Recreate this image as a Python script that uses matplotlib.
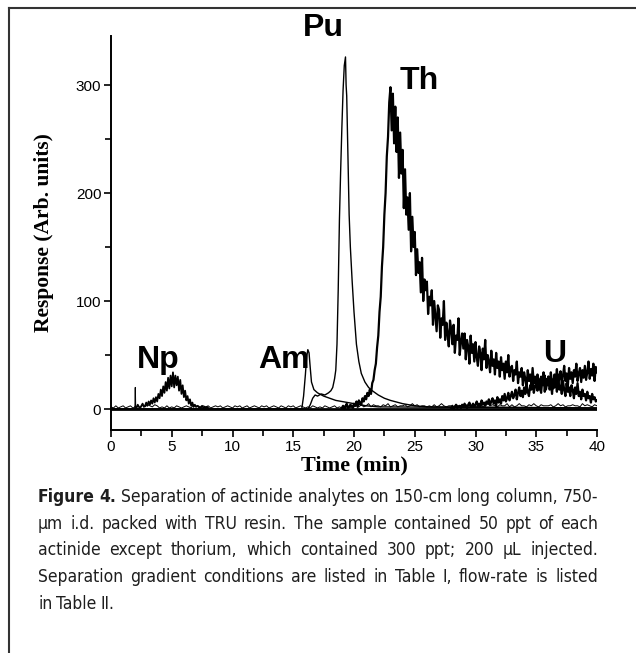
import numpy as np
import matplotlib.pyplot as plt
from matplotlib import font_manager
from matplotlib.font_manager import FontProperties
from matplotlib.ticker import MultipleLocator

# ---- data ----
# common baseline of all runs, 0.2 min steps
base_t = np.arange(0, 40.01, 0.2)
base_v = [2, 1, 3, 1, 2, 3, 1, 2, 3, 1,
          2, 3, 1, 4, 2, 4, 3, 2, 4, 3,
          1, 2, 1, 3, 1, 2, 1, 3, 2, 1,
          2, 3, 2, 1, 4, 2, 3, 1, 3, 2,
          3, 1, 2, 3, 2, 3, 1, 2, 3, 2,
          1, 3, 2, 3, 1, 2, 3, 1, 2, 3,
          2, 1, 3, 2, 3, 1, 2, 3, 2, 1,
          3, 2, 1, 3, 2, 3, 1, 2, 3, 2,
          1, 2, 1, 3, 2, 1, 2, 1, 3, 2,
          1, 2, 3, 1, 2, 1, 3, 2, 1, 2,
          2, 3, 2, 4, 2, 3, 5, 2, 4, 3,
          3, 2, 4, 3, 5, 2, 3, 4, 2, 3,
          3, 4, 2, 3, 5, 3, 4, 2, 3, 3,
          2, 3, 2, 4, 2, 3, 5, 3, 2, 3,
          3, 2, 4, 3, 3, 2, 4, 3, 3, 2,
          3, 2, 4, 2, 3, 5, 3, 4, 3, 2,
          4, 3, 3, 5, 2, 4, 2, 3, 5, 3,
          3, 2, 4, 3, 5, 3, 2, 4, 3, 3,
          3, 4, 2, 3, 5, 3, 4, 2, 3, 3,
          4, 3, 3, 2, 5, 3, 4, 3, 2, 4,
          3]
flat_t = [0, 10, 20, 30, 40]
flat_v = [0.5, 0.5, 0.5, 0.5, 0.5]
spike_t = [1.97, 2.0, 2.03]
spike_v = [1, 20, 1]

# Np run, 0.1 min steps from 2.0
np_t = np.arange(2.0, 8.01, 0.1)
np_v = [2, 1, 4, 2, 1, 3, 5, 2, 3, 6,
        3, 7, 4, 8, 5, 10, 6, 11, 7, 14,
        10, 18, 12, 21, 15, 25, 17, 29, 19, 31,
        21, 34, 20, 31, 22, 30, 17, 27, 14, 22,
        11, 17, 8, 12, 5, 9, 3, 6, 2, 4,
        2, 3, 2, 1, 2, 3, 1, 2, 1, 2,
        1]

# Am run
am_t = [0, 15.7, 15.85, 16.0, 16.1, 16.2, 16.3, 16.4, 16.5, 16.7, 17.0,
        17.5, 18.0, 18.5, 19.0, 20.0, 21.0, 22.0, 40]
am_v = [0, 0, 12, 32, 48, 55, 52, 38, 25, 18, 15,
        12, 10, 8, 7, 5, 3, 2, 1]

# Pu run
pu_t = [0, 16.2, 16.4, 16.6, 16.8, 17.0, 17.3, 17.6, 17.9, 18.1, 18.25,
        18.4, 18.5, 18.6, 18.7, 18.8, 18.9, 19.0, 19.1, 19.2, 19.3, 19.35,
        19.4, 19.5, 19.6, 19.7, 19.85, 20.0, 20.2, 20.4, 20.6, 20.9, 21.2,
        21.5, 22.0, 22.5, 23.0, 24.0, 25.0, 26.0, 40]
pu_v = [0, 0, 4, 10, 13, 12, 14, 13, 15, 17, 20,
        28, 36, 60, 110, 175, 220, 260, 295, 318, 326, 300,
        290, 235, 180, 150, 118, 90, 60, 44, 33, 25, 20,
        17, 13, 10, 8, 5, 3, 2, 1]

# Th run, 0.1 min steps from 19.0
th_t = np.arange(19.0, 40.01, 0.1)
th_v = [1, 3, 0, 2, 5, 1, 2, 4, 3, 1,
        5, 3, 7, 2, 8, 6, 4, 10, 7, 12,
        9, 15, 12, 18, 14, 24, 27, 36, 42, 57,
        68, 90, 104, 132, 150, 180, 200, 234, 252, 284,
        298, 258, 292, 246, 280, 238, 270, 214, 256, 218,
        240, 186, 222, 180, 196, 166, 200, 146, 178, 150,
        164, 124, 148, 126, 136, 108, 140, 100, 120, 110,
        118, 88, 104, 96, 110, 78, 100, 86, 72, 96,
        92, 66, 84, 78, 100, 64, 80, 70, 58, 82,
        74, 60, 78, 52, 68, 64, 84, 50, 62, 70,
        56, 70, 46, 64, 58, 42, 68, 52, 60, 44,
        62, 48, 40, 58, 52, 36, 56, 46, 64, 38,
        50, 44, 34, 54, 40, 46, 32, 52, 38, 44,
        30, 48, 36, 42, 28, 44, 34, 50, 30, 38,
        40, 26, 36, 32, 44, 24, 34, 30, 38, 22,
        34, 28, 20, 36, 26, 32, 22, 38, 24, 30,
        20, 32, 26, 18, 30, 24, 34, 16, 28, 22,
        30, 18, 24, 14, 28, 20, 26, 16, 32, 18,
        22, 14, 26, 18, 12, 24, 16, 20, 12, 22,
        18, 10, 20, 14, 24, 12, 16, 9, 18, 12,
        14, 8, 16, 10, 12, 6, 14, 9, 11, 7,
        8]

# U run, 0.1 min steps from 28.0
u_t = np.arange(28.0, 40.01, 0.1)
u_v = [1, 3, 0, 2, 4, 1, 2, 3, 1, 4,
       2, 5, 3, 1, 4, 6, 2, 3, 5, 2,
       4, 7, 3, 5, 2, 8, 4, 6, 3, 7,
       5, 9, 4, 7, 10, 5, 8, 3, 11, 6,
       9, 5, 12, 8, 14, 7, 10, 15, 8, 12,
       16, 10, 13, 18, 9, 15, 20, 12, 17, 11,
       20, 14, 23, 16, 12, 22, 18, 26, 15, 21,
       24, 17, 28, 20, 15, 27, 22, 31, 18, 25,
       30, 21, 34, 24, 19, 32, 26, 37, 22, 29,
       35, 23, 31, 40, 26, 33, 21, 38, 28, 34,
       24, 36, 30, 42, 26, 33, 38, 25, 36, 29,
       40, 27, 34, 44, 28, 37, 31, 42, 26, 39,
       34]

peak_names = ["Np", "Am", "Pu", "Th", "U"]
peak_pos = [(3.9, 38), (14.2, 38), (17.5, 345), (25.4, 296), (36.5, 44)]

caption = [
    [("Figure", "bold"), ("4.", "bold")] + [(w, "normal") for w in
        "Separation of actinide analytes on 150-cm long column, 750-".split()],
    [(w, "normal") for w in
        "µm i.d. packed with TRU resin. The sample contained 50 ppt of each".split()],
    [(w, "normal") for w in
        "actinide except thorium, which contained 300 ppt; 200 µL injected.".split()],
    [(w, "normal") for w in
        "Separation gradient conditions are listed in Table I, flow-rate is listed".split()],
    [(w, "normal") for w in "in Table II.".split()],
]

# ---- figure ----
W, H = 636, 653
fig = plt.figure(figsize=(W / 100, H / 100), dpi=100)
ax = fig.add_axes([111 / W, 1 - 430 / H, (597 - 111) / W, (430 - 36) / H])

for t, v, lw in [(base_t, base_v, 0.7), (flat_t, flat_v, 2.0), (spike_t, spike_v, 0.8),
                 (np_t, np_v, 1.3), (am_t, am_v, 1.0), (pu_t, pu_v, 1.0),
                 (th_t, th_v, 1.6), (u_t, u_v, 1.6)]:
    ax.plot(t, v, color="black", lw=lw)

ax.set_xlim(0, 40)
ax.set_ylim(-19.4, 345.4)
for side in ["top", "right"]:
    ax.spines[side].set_visible(False)
for side in ["left", "bottom"]:
    ax.spines[side].set_linewidth(1.4)

ax.xaxis.set_major_locator(MultipleLocator(5))
ax.xaxis.set_minor_locator(MultipleLocator(2.5))
ax.yaxis.set_major_locator(MultipleLocator(100))
ax.yaxis.set_minor_locator(MultipleLocator(50))
ax.set_yticks([0, 100, 200, 300])
ax.tick_params(which="both", direction="out", width=1.2)
ax.tick_params(which="major", length=5, labelsize=11, pad=2)
ax.tick_params(which="minor", length=4)
for lab in ax.get_xticklabels() + ax.get_yticklabels():
    lab.set_family("Liberation Sans")

ax.set_xlabel("Time (min)", family="Liberation Serif", weight="bold", size=16, labelpad=1)
ax.set_ylabel("Response (Arb. units)", family="Liberation Serif", weight="bold",
              size=15.5, labelpad=16)

for name, (x, y) in zip(peak_names, peak_pos):
    ax.text(x, y, name, ha="center", va="baseline", fontsize=23,
            fontweight="bold", family="Liberation Sans")

# page frame (left and top edges only)
fig.add_artist(plt.Line2D([9 / W, 9 / W], [0, 1 - 8 / H], color="#333333", lw=1.5))
fig.add_artist(plt.Line2D([9 / W, 1], [1 - 8 / H, 1 - 8 / H], color="#333333", lw=1.5))

# caption font: prefer a condensed face if one is installed
narrow = [f for f in font_manager.fontManager.ttflist
          if ("Narrow" in f.name or "Condensed" in f.name
              or str(f.stretch) in ("condensed", "semi-condensed", "extra-condensed"))]
regular = [f for f in narrow if f.weight in (400, "normal", "regular") and f.style == "normal"]
bold = [f for f in narrow if f.weight in (700, "bold") and f.style == "normal"]
if regular:
    cap_reg = FontProperties(fname=regular[0].fname)
    same = [f for f in bold if f.name == regular[0].name]
    cap_bold = FontProperties(fname=same[0].fname) if same else FontProperties(
        family=regular[0].name, weight="bold")
else:
    cap_reg = FontProperties(family="Liberation Sans")
    cap_bold = FontProperties(family="Liberation Sans", weight="bold")

# caption, justified between x=38 and x=598
fig.canvas.draw()
renderer = fig.canvas.get_renderer()
x0, x1 = 38, 598
line_y = [502, 529, 555, 582, 609]


def place_line(words, y, size):
    arts = []
    for w, wt in words:
        fp = (cap_bold if wt == "bold" else cap_reg).copy()
        fp.set_size(size)
        arts.append(fig.text(0, 1 - y / H, w, fontproperties=fp,
                             color="#1e1e1e", va="baseline"))
    widths = [a.get_window_extent(renderer).width for a in arts]
    return arts, widths


# largest size at which every line still fits with ordinary word spaces
size = 18.0
while size > 9:
    widest = 0
    for words in caption:
        arts, widths = place_line(words, 0, size)
        widest = max(widest, sum(widths) + 0.24 * size * 100 / 72 * (len(widths) - 1))
        for a in arts:
            a.remove()
    if widest <= x1 - x0:
        break
    size -= 0.25

for i, (words, y) in enumerate(zip(caption, line_y)):
    arts, widths = place_line(words, y, size)
    if i < len(caption) - 1:
        gap = (x1 - x0 - sum(widths)) / (len(arts) - 1)
    else:
        gap = 0.24 * size * 100 / 72
    x = x0
    for a, w in zip(arts, widths):
        a.set_x(x / W)
        x += w + gap

fig.savefig("out.png", dpi=100)
